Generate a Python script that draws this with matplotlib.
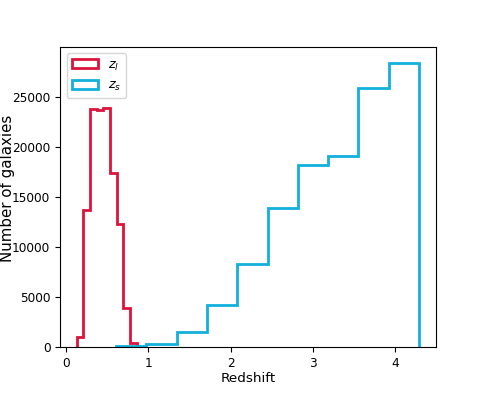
import numpy as np
import matplotlib
matplotlib.use('Agg')
import matplotlib.pyplot as plt

# lens redshift histogram (bin edges and counts)
lens_edges = [0.130, 0.211, 0.292, 0.373, 0.454, 0.535, 0.616, 0.697, 0.778, 0.859]
lens_counts = [1000, 13700, 23800, 23700, 23900, 17400, 12300, 3900, 350]

# source redshift histogram
src_edges = [0.607, 0.976, 1.345, 1.713, 2.082, 2.450, 2.819, 3.188, 3.556, 3.925, 4.293]
src_counts = [100, 300, 1500, 4200, 8300, 13900, 18200, 19100, 25900, 28400]

fig = plt.figure(figsize=(4.85, 3.97), dpi=100)
ax = fig.add_axes([0.124, 0.126, 0.775, 0.756])

ax.hist(lens_edges[:-1], bins=lens_edges, weights=lens_counts, histtype='step',
        color='#DC143C', lw=2, label='$z_l$')
ax.hist(src_edges[:-1], bins=src_edges, weights=src_counts, histtype='step',
        color='#12B0DC', lw=2, label='$z_s$')

ax.set_xlim(-0.073, 4.5)
ax.set_ylim(0, 30000)
ax.set_xticks([0, 1, 2, 3, 4])
ax.set_yticks([0, 5000, 10000, 15000, 20000, 25000])
ax.tick_params(labelsize=8.7)
ax.set_xlabel('Redshift', fontsize=9.7, labelpad=1.5)
ax.set_ylabel('Number of galaxies', fontsize=10.8)
ax.yaxis.set_label_coords(-0.12, 0.53)
ax.legend(loc='upper left', fontsize=9.3, handlelength=2.0)

fig.savefig('out.png', dpi=100)
